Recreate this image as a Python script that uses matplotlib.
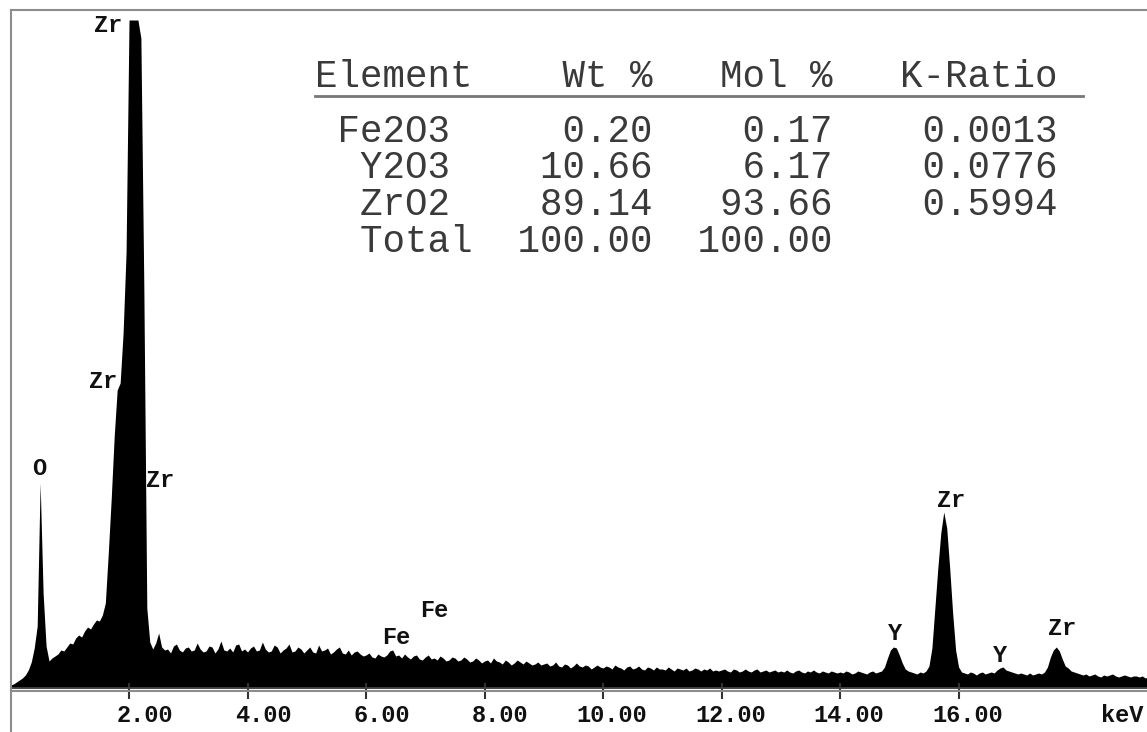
import numpy as np
import matplotlib
matplotlib.use("Agg")
import matplotlib.pyplot as plt
from matplotlib.lines import Line2D
from matplotlib.transforms import offset_copy

# EDS spectrum, one value every 0.05 keV (arbitrary counts)
channel_kev = 0.05
counts = [
    3, 4, 6, 8, 10, 13, 18, 26, 40, 62, 205, 95, 42, 27, 30, 32, 34, 38, 37, 41,
    45, 44, 50, 53, 51, 57, 61, 59, 64, 68, 67, 73, 85, 135, 190, 252, 298, 305, 355, 435,
    668, 668, 668, 668, 650, 400, 80, 46, 39, 45, 55, 41, 38, 39, 35, 42, 44, 38, 36, 40,
    41, 37, 38, 45, 39, 36, 37, 42, 41, 35, 39, 47, 38, 37, 40, 36, 43, 44, 37, 39,
    36, 40, 42, 37, 38, 46, 39, 36, 37, 43, 41, 35, 38, 40, 44, 36, 37, 41, 39, 35,
    38, 41, 36, 35, 43, 37, 38, 40, 34, 36, 39, 41, 35, 34, 38, 33, 36, 37, 34, 32,
    33, 35, 31, 30, 34, 32, 31, 33, 37, 38, 32, 33, 30, 34, 31, 29, 32, 33, 29, 28,
    31, 33, 29, 30, 28, 32, 30, 27, 28, 31, 30, 27, 28, 31, 29, 26, 27, 30, 28, 25,
    27, 28, 25, 30, 27, 26, 24, 28, 26, 23, 25, 28, 26, 24, 27, 25, 23, 24, 26, 23,
    24, 25, 22, 23, 26, 22, 21, 24, 23, 20, 22, 25, 22, 21, 23, 22, 19, 21, 23, 21,
    20, 22, 21, 19, 23, 21, 20, 18, 21, 22, 19, 20, 22, 19, 18, 21, 20, 18, 21, 19,
    19, 18, 21, 19, 17, 20, 19, 18, 20, 17, 18, 20, 19, 17, 19, 18, 20, 17, 18, 17,
    18, 19, 17, 16, 19, 18, 16, 17, 19, 17, 16, 18, 19, 16, 17, 18, 16, 17, 18, 16,
    17, 16, 18, 16, 15, 17, 18, 16, 15, 17, 16, 18, 16, 15, 17, 16, 15, 17, 16, 15,
    16, 15, 17, 16, 14, 15, 17, 16, 15, 14, 16, 17, 15, 16, 17, 21, 30, 38, 41, 40,
    33, 25, 19, 17, 16, 15, 14, 16, 15, 17, 22, 40, 80, 120, 155, 176, 160, 120, 75, 38,
    21, 16, 15, 14, 16, 15, 13, 15, 16, 14, 15, 16, 15, 18, 20, 21, 18, 17, 16, 15,
    14, 15, 14, 13, 15, 13, 14, 15, 14, 16, 21, 31, 38, 41, 37, 29, 22, 20, 17, 16,
    15, 14, 13, 14, 12, 13, 14, 12, 11, 13, 12, 13, 14, 12, 11, 12, 13, 12, 11, 12,
    12, 11, 12, 10, 11,
]
energy = np.arange(len(counts)) * channel_kev

# peak labels
peak_names = ["O", "Zr", "Zr", "Zr", "Fe", "Fe", "Y", "Zr", "Y", "Zr"]
label_kev = [0.49, 1.64, 1.56, 2.52, 6.51, 7.15, 14.93, 15.87, 16.70, 17.75]
label_base = [213, 656, 300, 201, 44, 71, 48, 181, 26, 53]

tick_kev = [2, 4, 6, 8, 10, 12, 14, 16]

# quantification table
compounds = ["Fe2O3", "Y2O3", "ZrO2"]
wt_pct = [0.20, 10.66, 89.14]
mol_pct = [0.17, 6.17, 93.66]
k_ratio = [0.0013, 0.0776, 0.5994]

W, H = 1147, 732
fig = plt.figure(figsize=(W / 100, H / 100), dpi=100)
ax = fig.add_axes([11 / W, (H - 691) / H, 1 - 11 / W, (691 - 10) / H])

ax.fill_between(energy, counts, 0, color="black", linewidth=0)
ax.axhline(0, color="#444444", lw=1.3)
ax.set_xlim(0.008, 19.18)
ax.set_ylim(-3, 678)

for side in ["top", "left", "bottom"]:
    ax.spines[side].set_color("#8c8c8c")
    ax.spines[side].set_linewidth(1.5)
ax.spines["right"].set_visible(False)
fig.add_artist(Line2D([11 / W, 11 / W], [0, (H - 691) / H], color="#8c8c8c",
                      lw=1.5, transform=fig.transFigure))

ax.set_yticks([])
ax.set_xticks(tick_kev)
ax.set_xticklabels([])
ax.tick_params(axis="x", direction="inout", length=11, width=1.5, color="#333333")

mono = "Liberation Mono"
lab_tr = offset_copy(ax.get_xaxis_transform(), fig=fig, x=44, y=-31, units="dots")
for t in tick_kev:
    ax.text(t, 0, f"{t:.2f}", transform=lab_tr, ha="right", va="baseline",
            fontsize=17, fontweight="bold", family=mono, color="#111111")
ax.text(1.0, 0, "keV", transform=offset_copy(ax.transAxes, fig=fig, x=-46, y=-31, units="dots"),
        ha="left", va="baseline", fontsize=17, fontweight="bold", family=mono, color="#111111")

for name, e, h in zip(peak_names, label_kev, label_base):
    ax.text(e, h, name, ha="center", va="baseline", fontsize=17,
            fontweight="bold", family=mono, color="#111111")

# table, laid out on a monospace grid
header = "Element" + " " * 4 + "Wt %" + " " * 3 + "Mol %" + " " * 3 + "K-Ratio"
rows = [f"{c:>6}  {w:>7.2f}{m:>8.2f}{k:>10.4f}" for c, w, m, k in
        zip(compounds, wt_pct, mol_pct, k_ratio)]
rows.append(f"{'Total':>7} {sum(wt_pct):>7.2f}{sum(mol_pct):>8.2f}")

tx = 315 / W
fig.text(tx, 1 - 87 / H, header, ha="left", va="baseline", fontsize=27,
         family=mono, color="#3a3a3a")
fig.add_artist(Line2D([315 / W, 1083 / W], [1 - 96 / H, 1 - 96 / H], color="#777777",
                      lw=2, transform=fig.transFigure))
for i, r in enumerate(rows):
    fig.text(tx, 1 - (142 + 36.5 * i) / H, r, ha="left", va="baseline",
             fontsize=27, family=mono, color="#3a3a3a")

fig.savefig("out.png", dpi=100, facecolor="white")
